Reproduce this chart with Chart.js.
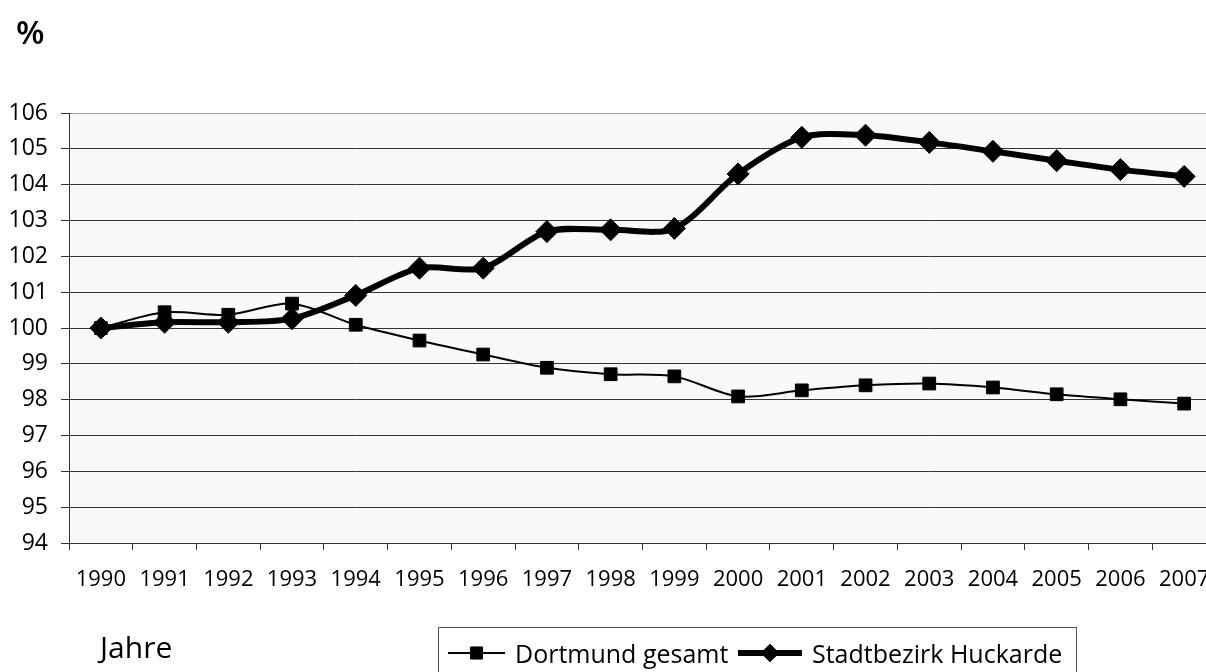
<!DOCTYPE html>
<html lang="de">
<head>
<meta charset="utf-8">
<script src="https://cdn.jsdelivr.net/npm/chart.js@4.4.1/dist/chart.umd.min.js"></script>
<style>
  html, body { margin: 0; padding: 0; background: #fff; overflow: hidden; }
  #wrap { position: relative; width: 1206px; height: 672px; overflow: hidden; font-family: "Open Sans", sans-serif; color: #000; }
  #chart { position: absolute; left: 0; top: 0; }
  #unit { position: absolute; left: 16px; top: 12px; font-size: 33px; font-weight: 600; line-height: 40px; }
  #xtitle { position: absolute; left: 100px; top: 627px; font-size: 30px; line-height: 40px; }
  #legend { position: absolute; left: 438px; top: 627px; width: 639px; height: 70px; border: 1px solid #555; box-sizing: border-box; font-size: 25px; line-height: 34px; }
  #legend span { position: absolute; top: 8px; white-space: nowrap; }
</style>
</head>
<body>
<div id="wrap">
  <canvas id="chart" width="1230" height="672"></canvas>
  <div id="unit">%</div>
  <div id="xtitle">Jahre</div>
  <div id="legend">
    <span id="leg0" style="left:76px"></span>
    <span id="leg1" style="left:373px"></span>
  </div>
</div>
<script>
// Jahre und Indexwerte (1990 = 100)
const years = ['1990', '1991', '1992', '1993', '1994', '1995', '1996', '1997', '1998',
               '1999', '2000', '2001', '2002', '2003', '2004', '2005', '2006', '2007'];
const dortmund = [100.0, 100.44, 100.37, 100.68, 100.09, 99.65, 99.26, 98.89, 98.71,
                  98.65, 98.09, 98.26, 98.40, 98.45, 98.34, 98.15, 98.01, 97.89];
const huckarde = [100.0, 100.16, 100.16, 100.26, 100.91, 101.67, 101.67, 102.69, 102.74,
                  102.78, 104.30, 105.32, 105.38, 105.18, 104.93, 104.67, 104.42, 104.23];
const seriesNames = ['Dortmund gesamt', 'Stadtbezirk Huckarde'];
const yMin = 94, yMax = 106;

document.getElementById('leg0').textContent = seriesNames[0];
document.getElementById('leg1').textContent = seriesNames[1];

// Hintergrund der Zeichenfläche
const plotBackground = {
    id: 'plotBackground',
    beforeDraw(chart) {
        const { ctx, chartArea } = chart;
        ctx.save();
        ctx.fillStyle = '#f9f9f9';
        ctx.fillRect(chartArea.left, chartArea.top, chartArea.right - chartArea.left, chartArea.bottom - chartArea.top);
        ctx.restore();
    }
};

// Legendensymbole (Linie + Marker) unter dem HTML-Legendenkasten
const legendMarks = {
    id: 'legendMarks',
    afterDraw(chart) {
        const ctx = chart.ctx;
        const items = [
            { ds: chart.data.datasets[0], x0: 448, x1: 505, scale: 0.95 },
            { ds: chart.data.datasets[1], x0: 738, x1: 802, scale: 0.8 }
        ];
        const y = 653;
        items.forEach(it => {
            ctx.save();
            ctx.strokeStyle = it.ds.borderColor;
            ctx.lineWidth = it.ds.borderWidth;
            ctx.beginPath();
            ctx.moveTo(it.x0, y);
            ctx.lineTo(it.x1, y);
            ctx.stroke();
            ctx.fillStyle = it.ds.pointBackgroundColor;
            ctx.lineWidth = 1;
            Chart.helpers.drawPoint(ctx, {
                pointStyle: it.ds.pointStyle,
                radius: it.ds.pointRadius * it.scale,
                rotation: 0,
                borderWidth: 1
            }, (it.x0 + it.x1) / 2, y);
            ctx.restore();
        });
    }
};

const ctx = document.getElementById('chart').getContext('2d');
new Chart(ctx, {
    type: 'line',
    data: {
        labels: years,
        datasets: [{
            label: seriesNames[0],
            data: dortmund,
            borderColor: '#000',
            backgroundColor: '#000',
            borderWidth: 2,
            pointStyle: 'rect',
            pointRadius: 9,
            pointBackgroundColor: '#000',
            pointBorderColor: '#000',
            pointBorderWidth: 1,
            tension: 0.3
        }, {
            label: seriesNames[1],
            data: huckarde,
            borderColor: '#000',
            backgroundColor: '#000',
            borderWidth: 6,
            pointStyle: 'rectRot',
            pointRadius: 11,
            pointBackgroundColor: '#000',
            pointBorderColor: '#000',
            pointBorderWidth: 1,
            tension: 0.3
        }]
    },
    options: {
        responsive: false,
        animation: false,
        events: [],
        layout: { padding: { top: 113, right: 14, bottom: 0, left: 0 } },
        plugins: {
            legend: { display: false },
            tooltip: { enabled: false }
        },
        scales: {
            x: {
                offset: true,
                afterFit: scale => { scale.height = 129; },
                grid: {
                    offset: true,
                    drawOnChartArea: false,
                    tickLength: 7,
                    tickColor: '#333'
                },
                border: { color: '#333', width: 1 },
                ticks: {
                    color: '#000',
                    padding: 17,
                    maxRotation: 0,
                    autoSkip: false,
                    font: { family: '"Open Sans", sans-serif', size: 22 }
                }
            },
            y: {
                min: yMin,
                max: yMax,
                afterFit: scale => { scale.width = 69; },
                grid: {
                    color: c => (c.tick && c.tick.value === yMax) ? '#999' : '#333',
                    lineWidth: 1,
                    tickLength: 8,
                    tickColor: '#333'
                },
                border: { color: '#333', width: 1 },
                ticks: {
                    stepSize: 1,
                    color: '#000',
                    padding: 13,
                    font: { family: '"Open Sans", sans-serif', size: 23 }
                }
            }
        }
    },
    plugins: [plotBackground, legendMarks]
});
</script>
</body>
</html>
